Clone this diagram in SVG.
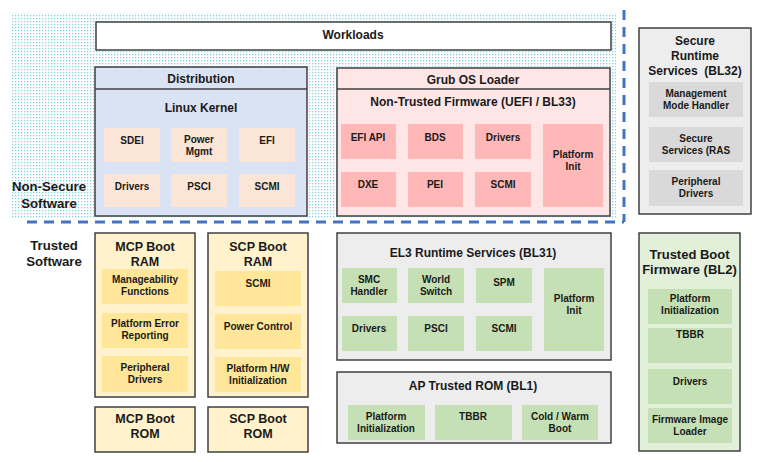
<svg xmlns="http://www.w3.org/2000/svg" width="759" height="462" viewBox="0 0 759 462">
<defs>
<pattern id="dots" x="0" y="0" width="3" height="3" patternUnits="userSpaceOnUse">
<rect x="0" y="0" width="1.3" height="1.3" fill="#84d2dc"/>
</pattern>
</defs>
<style>
.box{stroke:#404040;stroke-width:1.5}
.sub{stroke:none}
text{font-family:"Liberation Sans",Arial,sans-serif;font-weight:bold;fill:#1a1a1a;text-anchor:middle;dominant-baseline:central}
.t13{font-size:12.5px}
.t12{font-size:12px}
.t14{font-size:13px}
.t10{font-size:10px}
.lbl{font-size:13.2px}
.blue{fill:#dae3f3}.peach{fill:#fbe5d6}
.pink{fill:#ffe6e6}.rose{fill:#ffb7b7}
.grey{fill:#ededed}.dgrey{fill:#d9d9d9}
.cream{fill:#fff2cc}.yellow{fill:#ffe699}
.lgreen{fill:#e2f0d9}.green{fill:#c5e0b4}
.dash{fill:none;stroke:#4472c4;stroke-width:3;stroke-dasharray:10 7}
</style>
<rect width="759" height="462" fill="#ffffff"/>
<rect x="11" y="13" width="605" height="206" fill="url(#dots)"/>

<g id="labels">
<text class="lbl" x="49" y="186">Non-Secure</text>
<text class="lbl" x="49" y="203">Software</text>
<text class="lbl" x="54" y="245">Trusted</text>
<text class="lbl" x="54" y="261">Software</text>
</g>

<g id="workloads">
<rect class="box" x="96" y="22" width="515" height="28" fill="#ffffff"/>
<text class="t12" x="353" y="35">Workloads</text>
</g>

<g id="distribution">
<rect class="box blue" x="95" y="67" width="212" height="149"/>
<line class="box" x1="95" y1="89" x2="307" y2="89"/>
<text class="t12" x="201" y="79">Distribution</text>
<text class="t12" x="201" y="108">Linux Kernel</text>
<rect class="sub peach" x="104" y="128" width="56" height="34"/>
<rect class="sub peach" x="171" y="128" width="56" height="34"/>
<rect class="sub peach" x="239" y="128" width="56" height="34"/>
<rect class="sub peach" x="104" y="174" width="56" height="33"/>
<rect class="sub peach" x="171" y="174" width="56" height="33"/>
<rect class="sub peach" x="239" y="174" width="56" height="33"/>
<text class="t10" x="132" y="140">SDEI</text>
<text class="t10" x="199" y="139">Power</text>
<text class="t10" x="199" y="151">Mgmt</text>
<text class="t10" x="267" y="140">EFI</text>
<text class="t10" x="132" y="186">Drivers</text>
<text class="t10" x="199" y="186">PSCI</text>
<text class="t10" x="267" y="186">SCMI</text>
</g>

<g id="grub">
<rect class="box pink" x="337" y="68" width="273" height="148"/>
<line class="box" x1="337" y1="89" x2="610" y2="89"/>
<text class="t12" x="473" y="80">Grub OS Loader</text>
<text class="t12" x="473" y="102">Non-Trusted Firmware (UEFI / BL33)</text>
<rect class="sub rose" x="341" y="124" width="55" height="35"/>
<rect class="sub rose" x="408" y="124" width="55" height="35"/>
<rect class="sub rose" x="475" y="124" width="56" height="35"/>
<rect class="sub rose" x="543" y="124" width="60" height="83"/>
<rect class="sub rose" x="341" y="172" width="55" height="35"/>
<rect class="sub rose" x="408" y="172" width="55" height="35"/>
<rect class="sub rose" x="475" y="172" width="56" height="35"/>
<text class="t10" x="368" y="137">EFI API</text>
<text class="t10" x="435" y="137">BDS</text>
<text class="t10" x="503" y="137">Drivers</text>
<text class="t10" x="573" y="154">Platform</text>
<text class="t10" x="573" y="166">Init</text>
<text class="t10" x="368" y="184">DXE</text>
<text class="t10" x="435" y="184">PEI</text>
<text class="t10" x="503" y="184">SCMI</text>
</g>

<g id="bl32">
<rect class="box grey" x="639" y="28" width="112" height="186"/>
<text class="t12" x="695" y="41">Secure</text>
<text class="t12" x="695" y="56">Runtime</text>
<text class="t12" x="695" y="71" xml:space="preserve">Services  (BL32)</text>
<rect class="sub dgrey" x="649" y="82" width="94" height="35"/>
<rect class="sub dgrey" x="649" y="127" width="94" height="35"/>
<rect class="sub dgrey" x="649" y="170" width="94" height="36"/>
<text class="t10" x="696" y="93">Management</text>
<text class="t10" x="696" y="105">Mode Handler</text>
<text class="t10" x="696" y="138">Secure</text>
<text class="t10" x="696" y="150">Services (RAS</text>
<text class="t10" x="696" y="181">Peripheral</text>
<text class="t10" x="696" y="193">Drivers</text>
</g>

<g id="mcp-ram">
<rect class="box cream" x="95" y="233" width="100" height="164"/>
<text class="t13" x="145" y="247">MCP Boot</text>
<text class="t13" x="145" y="262">RAM</text>
<rect class="sub yellow" x="102" y="269" width="86" height="35"/>
<rect class="sub yellow" x="102" y="313" width="86" height="35"/>
<rect class="sub yellow" x="102" y="356" width="86" height="36"/>
<text class="t10" x="145" y="279">Manageability</text>
<text class="t10" x="145" y="291">Functions</text>
<text class="t10" x="145" y="323">Platform Error</text>
<text class="t10" x="145" y="335">Reporting</text>
<text class="t10" x="145" y="367">Peripheral</text>
<text class="t10" x="145" y="379">Drivers</text>
</g>

<g id="scp-ram">
<rect class="box cream" x="208" y="233" width="100" height="164"/>
<text class="t13" x="258" y="247">SCP Boot</text>
<text class="t13" x="258" y="262">RAM</text>
<rect class="sub yellow" x="215" y="271" width="86" height="35"/>
<rect class="sub yellow" x="215" y="314" width="86" height="35"/>
<rect class="sub yellow" x="215" y="357" width="86" height="35"/>
<text class="t10" x="258" y="283">SCMI</text>
<text class="t10" x="258" y="326">Power Control</text>
<text class="t10" x="258" y="368">Platform H/W</text>
<text class="t10" x="258" y="380">Initialization</text>
</g>

<g id="mcp-rom">
<rect class="box cream" x="95" y="407" width="100" height="45"/>
<text class="t13" x="145" y="419">MCP Boot</text>
<text class="t13" x="145" y="434">ROM</text>
</g>

<g id="scp-rom">
<rect class="box cream" x="208" y="407" width="100" height="45"/>
<text class="t13" x="258" y="419">SCP Boot</text>
<text class="t13" x="258" y="434">ROM</text>
</g>

<g id="bl31">
<rect class="box grey" x="337" y="233" width="274" height="127"/>
<text class="t12" x="473" y="253">EL3 Runtime Services (BL31)</text>
<rect class="sub green" x="342" y="268" width="55" height="35"/>
<rect class="sub green" x="408" y="268" width="56" height="35"/>
<rect class="sub green" x="476" y="268" width="56" height="35"/>
<rect class="sub green" x="544" y="268" width="60" height="83"/>
<rect class="sub green" x="342" y="316" width="55" height="35"/>
<rect class="sub green" x="408" y="316" width="56" height="35"/>
<rect class="sub green" x="476" y="316" width="56" height="35"/>
<text class="t10" x="369" y="279">SMC</text>
<text class="t10" x="369" y="291">Handler</text>
<text class="t10" x="436" y="279">World</text>
<text class="t10" x="436" y="291">Switch</text>
<text class="t10" x="504" y="282">SPM</text>
<text class="t10" x="574" y="298">Platform</text>
<text class="t10" x="574" y="310">Init</text>
<text class="t10" x="369" y="328">Drivers</text>
<text class="t10" x="436" y="328">PSCI</text>
<text class="t10" x="504" y="328">SCMI</text>
</g>

<g id="bl1">
<rect class="box grey" x="337" y="372" width="274" height="71"/>
<text class="t12" x="473" y="386">AP Trusted ROM (BL1)</text>
<rect class="sub green" x="348" y="405" width="77" height="35"/>
<rect class="sub green" x="435" y="405" width="77" height="35"/>
<rect class="sub green" x="522" y="405" width="76" height="35"/>
<text class="t10" x="386" y="416">Platform</text>
<text class="t10" x="386" y="428">Initialization</text>
<text class="t10" x="473" y="416">TBBR</text>
<text class="t10" x="560" y="416">Cold / Warm</text>
<text class="t10" x="560" y="428">Boot</text>
</g>

<g id="bl2">
<rect class="box lgreen" x="639" y="233" width="101" height="218"/>
<text class="t14" x="689.5" y="254">Trusted Boot</text>
<text class="t14" x="689.5" y="269">Firmware (BL2)</text>
<rect class="sub green" x="648" y="289" width="84" height="35"/>
<rect class="sub green" x="648" y="328" width="84" height="35"/>
<rect class="sub green" x="648" y="369" width="84" height="35"/>
<rect class="sub green" x="648" y="408" width="84" height="35"/>
<text class="t10" x="690" y="298">Platform</text>
<text class="t10" x="690" y="310">Initialization</text>
<text class="t10" x="690" y="334">TBBR</text>
<text class="t10" x="690" y="381">Drivers</text>
<text class="t10" x="690" y="419">Firmware Image</text>
<text class="t10" x="690" y="431">Loader</text>
</g>

<g id="connectors">
<path class="dash" d="M27 222 H624"/>
<path class="dash" d="M624 10 V222"/>
</g>
</svg>
